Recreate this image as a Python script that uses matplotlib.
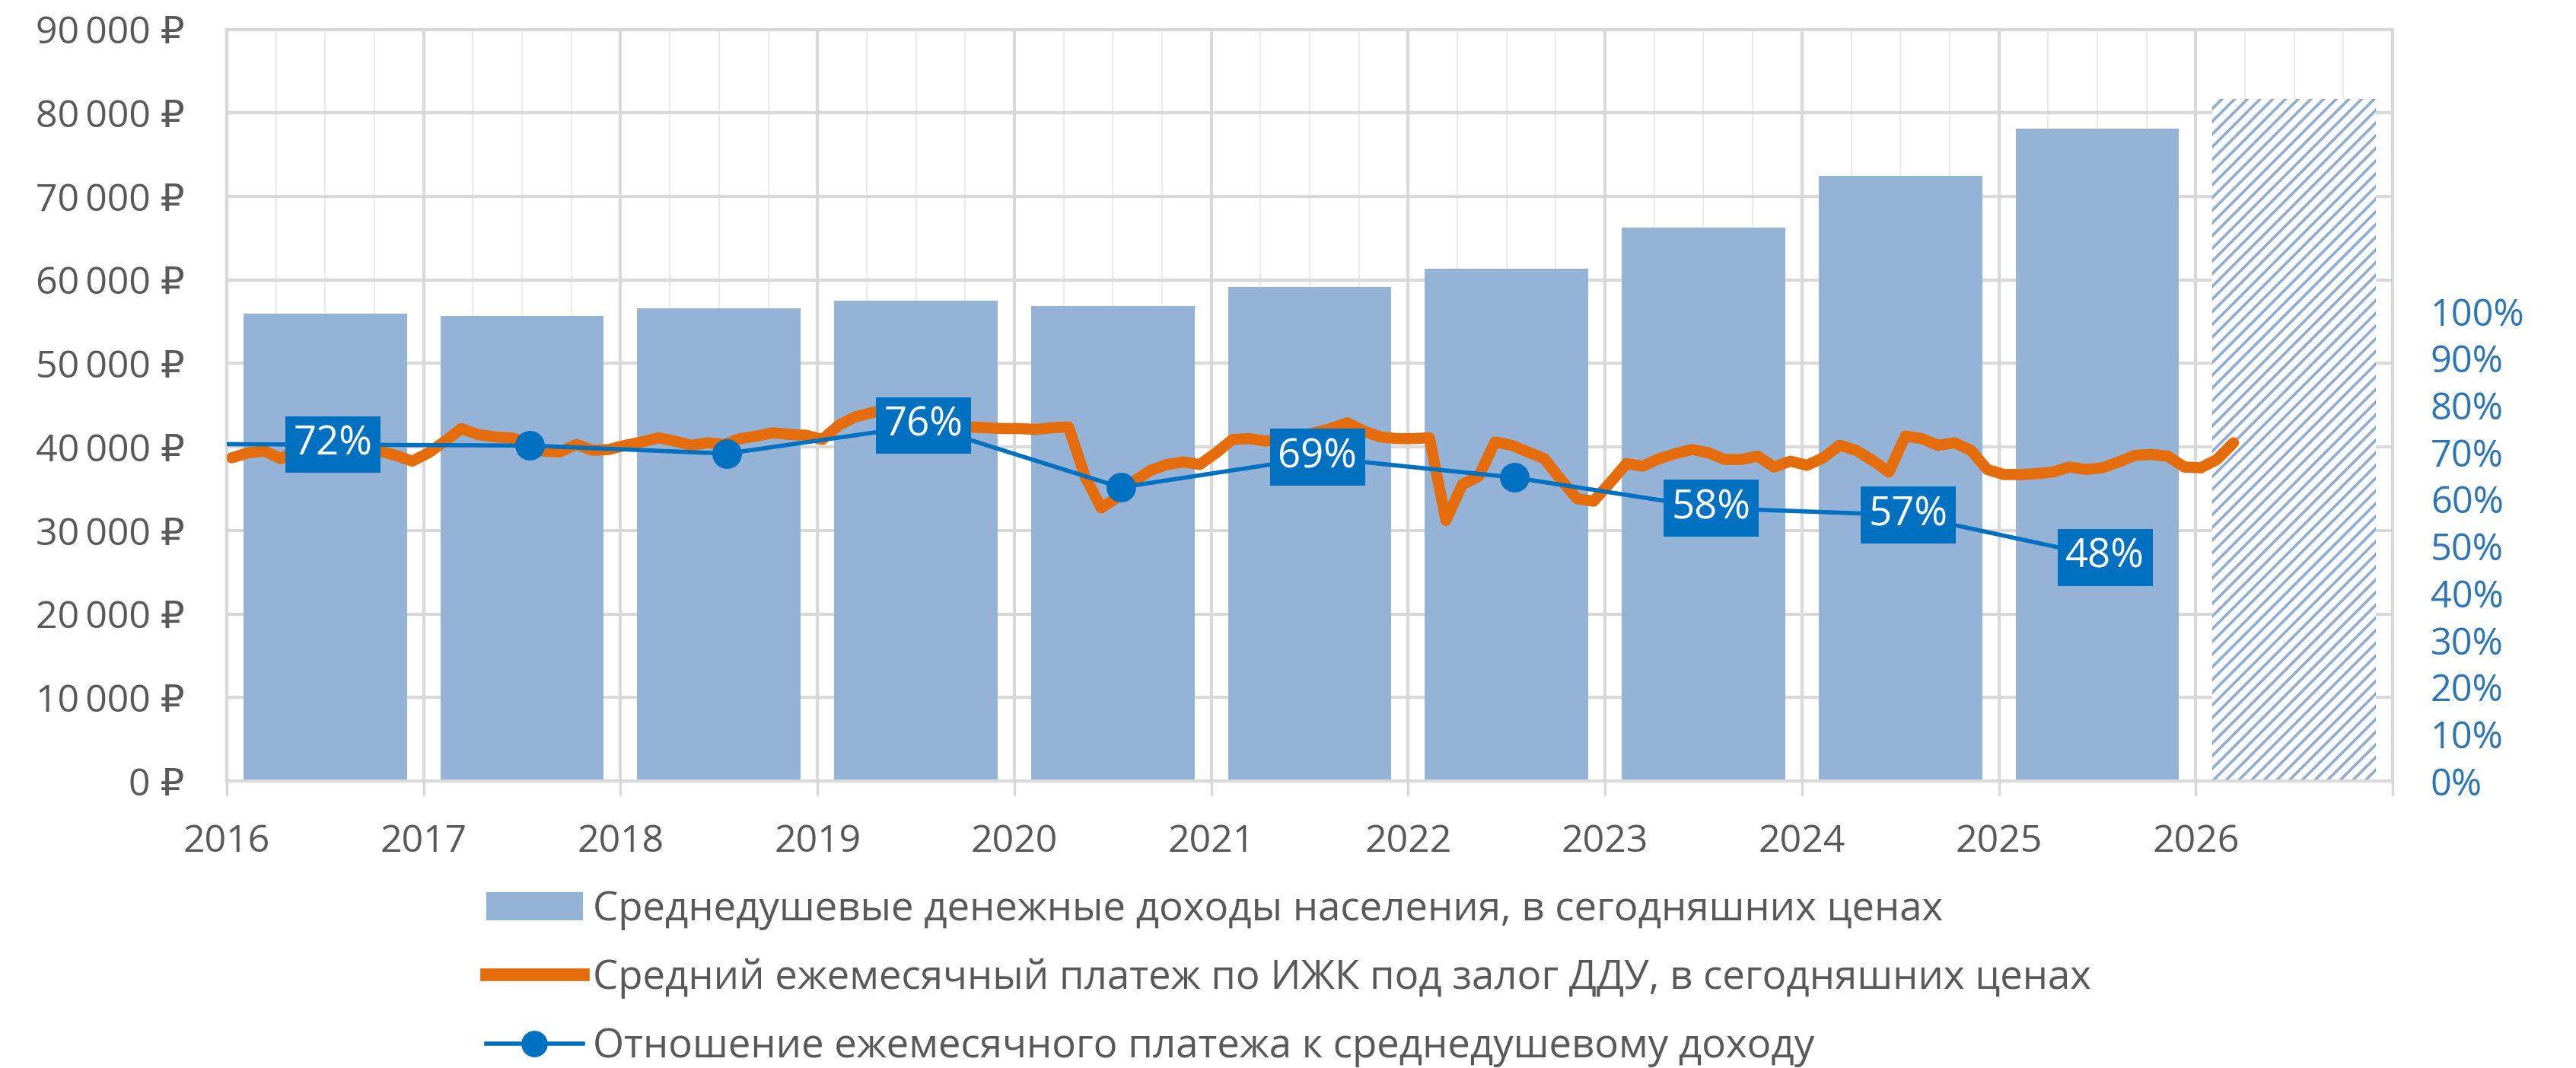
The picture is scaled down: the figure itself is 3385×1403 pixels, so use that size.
import numpy as np
import matplotlib
matplotlib.use("Agg")
import matplotlib.pyplot as plt
from matplotlib.patches import Patch
from matplotlib.lines import Line2D

plt.rcParams['font.family'] = ['Open Sans', 'DejaVu Sans']
plt.rcParams['hatch.linewidth'] = 2.6

# per-capita income by year (last one is forecast, hatched)
years = [2016, 2017, 2018, 2019, 2020, 2021, 2022, 2023, 2024, 2025, 2026]
income = [56000, 55700, 56600, 57500, 56900, 59200, 61300, 66300, 72500, 78100, 81700]

# average monthly mortgage payment, monthly from Jan 2016
payment = [
    38700, 39300, 39500, 38600, 39700, 39800, 40000, 39800, 39700, 39500, 39000, 38300,
    39300, 40700, 42200, 41500, 41200, 41100, 40600, 39500, 39400, 40300, 39600, 39700,
    40200, 40600, 41100, 40700, 40200, 40500, 40300, 41000, 41300, 41700, 41500, 41400,
    40900, 42600, 43600, 44100, 44500, 44600, 44300, 43800, 43000, 42400, 42300, 42200,
    42200, 42100, 42300, 42400, 36500, 32700, 34000, 35900, 37200, 37900, 38200, 37900,
    39300, 40900, 41000, 40700, 41000, 41300, 41700, 42200, 42900, 41900, 41200, 41000,
    41000, 41100, 31200, 35500, 36500, 40600, 40200, 39400, 38600, 36100, 33800, 33500,
    35700, 38000, 37700, 38600, 39200, 39700, 39300, 38500, 38500, 38900, 37600, 38300,
    37800, 38700, 40200, 39600, 38400, 37000, 41300, 41000, 40200, 40500, 39600, 37300,
    36700, 36700, 36800, 37000, 37600, 37300, 37500, 38200, 39000, 39100, 38900, 37600,
    37500, 38500, 40500,
]

# payment / income ratio, mid-year points
ratio_years = [2015, 2016, 2017, 2018, 2019, 2020, 2021, 2022, 2023, 2024, 2025]
ratio = [0.718, 0.716, 0.714, 0.697, 0.757, 0.625, 0.689, 0.646, 0.581, 0.566, 0.476]
label_years = [2016, 2019, 2021, 2023, 2024, 2025]

lbl_bar = 'Среднедушевые денежные доходы населения, в сегодняшних ценах'
lbl_pay = 'Средний ежемесячный платеж по ИЖК под залог ДДУ, в сегодняшних ценах'
lbl_ratio = 'Отношение ежемесячного платежа к среднедушевому доходу'

c_bar = '#95B3D7'
c_orange = '#E46C0A'
c_blue = '#0070C0'
c_grid = '#D9D9D9'
c_text = '#595959'

W, H = 3385, 1403
fig = plt.figure(figsize=(W / 100, H / 100), dpi=100)
ax = fig.add_axes([298 / W, 1 - 1026 / H, (3144 - 298) / W, (1026 - 38.6) / H])

bx = np.array(years) + 0.5
ax.bar(bx[:-1], income[:-1], width=0.83, color=c_bar, zorder=2)
ax.bar(bx[-1], income[-1], width=0.83, facecolor='white', edgecolor='#8FACD3',
       hatch='//', linewidth=0, zorder=2)

mx = 2016 + (np.arange(len(payment)) + 0.3) / 12
ax.plot(mx, payment, color=c_orange, lw=10.5, solid_joinstyle='round',
        solid_capstyle='round', zorder=3)

ax.set_xlim(2016, 2027)
ax.set_ylim(0, 90000)
ax.set_xticks(range(2016, 2028))
ax.set_xticklabels([str(y) for y in range(2016, 2027)] + [''])
ax.set_xticks(np.arange(2016, 2027, 0.25), minor=True)
ax.set_yticks(range(0, 90001, 10000))
ax.set_yticklabels([(f"{v:,}".replace(',', '\u2009') + '\u00a0₽') for v in range(0, 90001, 10000)])

ax.set_axisbelow(True)
ax.grid(which='minor', axis='x', color='#ECECEC', lw=1.6)
ax.grid(which='major', axis='both', color=c_grid, lw=3)
for s in ['left', 'right', 'top', 'bottom']:
    ax.spines[s].set_color(c_grid)
    ax.spines[s].set_linewidth(3)
ax.tick_params(axis='x', which='major', length=14, width=2.5, color=c_grid,
               pad=26, labelsize=36, labelcolor=c_text)
ax.tick_params(axis='x', which='minor', length=0)
ax.tick_params(axis='y', length=0, pad=40, labelsize=36, labelcolor=c_text)

ax2 = ax.twinx()
rx = np.array(ratio_years) + 0.54
ax2.plot(rx, ratio, color=c_blue, lw=4, marker='o', ms=27, zorder=4)
ax2.set_ylim(0, 1.6)
ax2.set_yticks(np.arange(0, 1.01, 0.1))
ax2.set_yticklabels([f"{int(round(t * 100))}%" for t in np.arange(0, 1.01, 0.1)])
ax2.tick_params(axis='y', length=0, pad=36, labelsize=35, labelcolor='#2E75B6')
for s in ax2.spines.values():
    s.set_visible(False)

for y, v in zip(ratio_years, ratio):
    if y in label_years:
        ax2.text(y + 0.54, v, f"{int(round(v * 100))}%", ha='center', va='center',
                 color='white', fontsize=38, zorder=6,
                 bbox=dict(boxstyle='square,pad=0.2', fc=c_blue, ec='none'))

handles = [
    Patch(facecolor=c_bar, edgecolor='none'),
    Line2D([], [], color=c_orange, lw=12),
    Line2D([], [], color=c_blue, lw=4, marker='o', ms=24),
]
fig.legend(handles, [lbl_bar, lbl_pay, lbl_ratio], loc='upper left',
           bbox_to_anchor=(639 / W, 1 - 1168 / H), frameon=False, fontsize=38,
           labelcolor=c_text, handlelength=2.4, handletextpad=0.25,
           labelspacing=0.7, borderpad=0, borderaxespad=0)

plt.savefig('out.png', dpi=100)
